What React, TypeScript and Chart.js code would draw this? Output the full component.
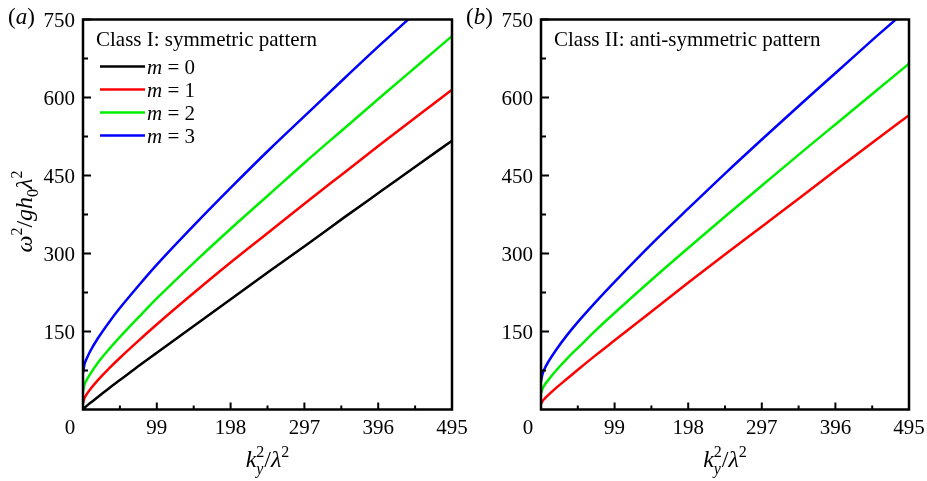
import React, { useEffect, useRef } from "react";
import { Chart, registerables } from "chart.js";

Chart.register(...registerables);

// ---------------- data ----------------
const kValues = [0, 2, 5, 10, 20, 35, 50, 75, 100, 150, 200, 250, 300, 350, 400, 450, 495];

const symM0 = [0, 3, 7, 13, 24, 41, 57, 84, 110, 162, 214, 266, 317, 369, 420, 471, 517];
const symM1 = [12, 22, 29.5, 39.5, 56.6, 79, 100, 133, 165, 226, 285, 342, 399, 455, 511, 566, 615];
const symM2 = [35, 48, 57, 69, 90, 116, 140, 178, 215, 284, 350, 414, 478, 540, 602, 663, 718];
const symM3 = [70, 87, 98, 113, 137, 168, 196, 239, 280, 356, 429, 500, 568, 636, 703, 768, 827];

const antiM1 = [11, 16, 21, 28, 41, 59, 77, 106, 134, 190, 246, 301, 355, 409, 464, 518, 566];
const antiM2 = [31, 40, 47.5, 57, 74.5, 98, 119, 154, 187, 251, 313, 374, 434, 494, 553, 612, 665];
const antiM3 = [54, 68, 79, 92, 114, 143, 169, 209, 247, 320, 389, 457, 523, 588, 652, 716, 772];

const symLabels = ["m = 0", "m = 1", "m = 2", "m = 3"];
const antiLabels = ["m = 1", "m = 2", "m = 3"];
const symColors = ["#000000", "#ff0000", "#00ee00", "#0000ff"];
const antiColors = ["#ff0000", "#00ee00", "#0000ff"];

const xTickValues = [0, 99, 198, 297, 396, 495];
const xMinorValues = [49.5, 148.5, 247.5, 346.5, 445.5];
const yTickValues = [150, 300, 450, 600, 750];
const yMinorValues = [75, 225, 375, 525, 675];

const X_MAX = 495;
const Y_MAX = 750;

// ---------------- rich text helpers ----------------
type Run = { t: string; it?: boolean; s: number; dy?: number; stack?: boolean };
const FAMILY = '"Liberation Serif", "Times New Roman", serif';
const fontOf = (r: Run) => `${r.it ? "italic " : ""}${r.s}px ${FAMILY}`;

function drawRuns(ctx: CanvasRenderingContext2D, runs: Run[], x: number, y: number, align: "left" | "center") {
  const pos: number[] = [];
  let cur = 0;
  let prevStart = 0;
  let prevW = 0;
  for (const r of runs) {
    ctx.font = fontOf(r);
    const w = ctx.measureText(r.t).width;
    if (r.stack) {
      pos.push(prevStart);
      prevW = Math.max(prevW, w);
      cur = prevStart + prevW;
    } else {
      pos.push(cur);
      prevStart = cur;
      prevW = w;
      cur += w;
    }
  }
  const x0 = align === "center" ? x - cur / 2 : x;
  ctx.textAlign = "left";
  ctx.textBaseline = "alphabetic";
  runs.forEach((r, i) => {
    ctx.font = fontOf(r);
    ctx.fillText(r.t, x0 + pos[i], y + (r.dy || 0));
  });
}

const xTitleRuns: Run[] = [
  { t: "k", it: true, s: 24 },
  { t: "y", it: true, s: 16, dy: 7 },
  { t: "2", s: 16, dy: -10, stack: true },
  { t: "/", s: 24 },
  { t: "λ", it: true, s: 24 },
  { t: "2", s: 16, dy: -10 },
];

const yTitleRuns: Run[] = [
  { t: "ω", it: true, s: 24 },
  { t: "2", s: 16, dy: -10 },
  { t: "/", s: 24 },
  { t: "g", it: true, s: 24 },
  { t: "h", it: true, s: 24 },
  { t: "0", s: 16, dy: 6 },
  { t: "λ", it: true, s: 24 },
  { t: "2", s: 16, dy: -10 },
];

type PanelOpts = {
  panel: string;
  classTitle: string;
  showLegend: boolean;
  showYTitle: boolean;
};

const panelPlugin = {
  id: "panelDecor",
  afterDatasetsDraw(chart: any, _args: any, opts: PanelOpts) {
    const ctx: CanvasRenderingContext2D = chart.ctx;
    const area = chart.chartArea;
    const xs = chart.scales.x;
    const ys = chart.scales.y;
    ctx.save();
    ctx.fillStyle = "#000";
    ctx.strokeStyle = "#000";

    // frame
    ctx.lineWidth = 2.5;
    ctx.strokeRect(area.left, area.top, area.right - area.left, area.bottom - area.top);

    // inward ticks
    ctx.lineWidth = 2;
    ctx.beginPath();
    for (const v of xTickValues) {
      const px = xs.getPixelForValue(v);
      ctx.moveTo(px, area.bottom);
      ctx.lineTo(px, area.bottom - 7);
    }
    for (const v of xMinorValues) {
      const px = xs.getPixelForValue(v);
      ctx.moveTo(px, area.bottom);
      ctx.lineTo(px, area.bottom - 4);
    }
    for (const v of yTickValues) {
      const py = ys.getPixelForValue(v);
      ctx.moveTo(area.left, py);
      ctx.lineTo(area.left + 8, py);
    }
    for (const v of yMinorValues) {
      const py = ys.getPixelForValue(v);
      ctx.moveTo(area.left, py);
      ctx.lineTo(area.left + 5, py);
    }
    ctx.stroke();

    // tick labels
    ctx.font = `21px ${FAMILY}`;
    ctx.textBaseline = "alphabetic";
    for (const v of xTickValues) {
      const px = xs.getPixelForValue(v);
      ctx.textAlign = "center";
      if (v === 0) {
        ctx.fillText("0", px - 13, area.bottom + 24);
      } else {
        ctx.fillText(String(v), px, area.bottom + 24);
      }
    }
    for (const v of yTickValues) {
      const py = ys.getPixelForValue(v);
      ctx.textAlign = "right";
      ctx.fillText(String(v), area.left - 8, py + 7.5);
    }

    // panel label (a)/(b)
    drawRuns(
      ctx,
      [
        { t: "(", s: 23 },
        { t: opts.panel, it: true, s: 23 },
        { t: ")", s: 23 },
      ],
      area.left - 75,
      area.top + 4,
      "left"
    );

    // x title
    drawRuns(ctx, xTitleRuns, (area.left + area.right) / 2, area.bottom + 57, "center");

    // y title
    if (opts.showYTitle) {
      ctx.save();
      ctx.translate(area.left - 51, area.top + 192);
      ctx.rotate(-Math.PI / 2);
      drawRuns(ctx, yTitleRuns, 0, 0, "center");
      ctx.restore();
    }

    // class title
    ctx.font = `21px ${FAMILY}`;
    ctx.textAlign = "left";
    ctx.fillText(opts.classTitle, area.left + 13, area.top + 26);

    // legend
    if (opts.showLegend) {
      chart.data.datasets.forEach((ds: any, i: number) => {
        const ly = area.top + 47 + i * 23;
        ctx.strokeStyle = ds.borderColor;
        ctx.lineWidth = 2.5;
        ctx.beginPath();
        ctx.moveTo(area.left + 17, ly);
        ctx.lineTo(area.left + 62, ly);
        ctx.stroke();
        const parts = String(ds.label).split(" = ");
        drawRuns(
          ctx,
          [
            { t: parts[0], it: true, s: 21 },
            { t: " = " + parts[1], s: 21 },
          ],
          area.left + 64,
          ly + 7,
          "left"
        );
      });
    }
    ctx.restore();
  },
};

function makeData(series: number[][], labels: string[], colors: string[]) {
  return {
    datasets: series.map((vals, i) => ({
      label: labels[i],
      data: kValues.map((k, j) => ({ x: k, y: vals[j] })),
      borderColor: colors[i],
      backgroundColor: colors[i],
      borderWidth: 2.5,
      pointRadius: 0,
      fill: false,
      cubicInterpolationMode: "monotone" as const,
      clip: 0,
    })),
  };
}

function Panel(props: {
  width: number;
  left: number;
  padLeft: number;
  padRight: number;
  series: number[][];
  labels: string[];
  colors: string[];
  opts: PanelOpts;
}) {
  const ref = useRef<HTMLCanvasElement | null>(null);
  useEffect(() => {
    if (!ref.current) return;
    const chart = new Chart(ref.current, {
      type: "line",
      data: makeData(props.series, props.labels, props.colors) as any,
      options: {
        animation: false,
        responsive: false,
        devicePixelRatio: 1,
        layout: { padding: { left: props.padLeft, right: props.padRight, top: 19.5, bottom: 71.5 } },
        scales: {
          x: { type: "linear", min: 0, max: X_MAX, display: false },
          y: { type: "linear", min: 0, max: Y_MAX, display: false },
        },
        plugins: {
          legend: { display: false },
          tooltip: { enabled: false },
          panelDecor: props.opts,
        } as any,
      },
      plugins: [panelPlugin as any],
    });
    return () => chart.destroy();
  }, []);
  return (
    <canvas
      ref={ref}
      width={props.width}
      height={481}
      style={{ position: "absolute", left: props.left, top: 0, width: props.width, height: 481 }}
    />
  );
}

export default function App() {
  return (
    <div style={{ position: "absolute", left: 0, top: 0, width: 927, height: 481, background: "#fff" }}>
      <Panel
        width={490}
        left={0}
        padLeft={83}
        padRight={38}
        series={[symM0, symM1, symM2, symM3]}
        labels={symLabels}
        colors={symColors}
        opts={{ panel: "a", classTitle: "Class I: symmetric pattern", showLegend: true, showYTitle: true }}
      />
      <Panel
        width={464}
        left={463}
        padLeft={78}
        padRight={18}
        series={[antiM1, antiM2, antiM3]}
        labels={antiLabels}
        colors={antiColors}
        opts={{ panel: "b", classTitle: "Class II: anti-symmetric pattern", showLegend: false, showYTitle: false }}
      />
    </div>
  );
}
